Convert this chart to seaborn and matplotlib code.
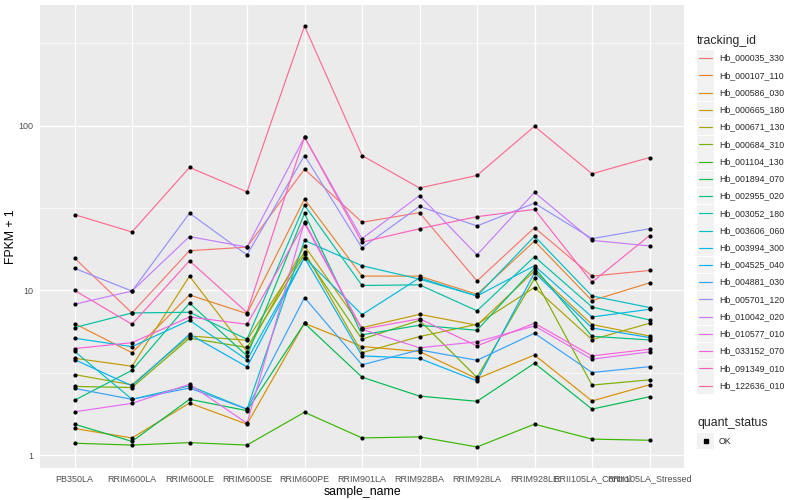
import numpy as np
import pandas as pd
import matplotlib
matplotlib.use("Agg")
import matplotlib.pyplot as plt
from matplotlib.lines import Line2D
from matplotlib.patches import Rectangle
import seaborn as sns

samples = ["PB350LA", "RRIM600LA", "RRIM600LE", "RRIM600SE", "RRIM600PE",
           "RRIM901LA", "RRIM928BA", "RRIM928LA", "RRIM928LE",
           "RRII105LA_Control", "RRII105LA_Stressed"]

tracking_ids = ["Hb_000035_330", "Hb_000107_110", "Hb_000586_030", "Hb_000665_180",
                "Hb_000671_130", "Hb_000684_310", "Hb_001104_130", "Hb_001894_070",
                "Hb_002955_020", "Hb_003052_180", "Hb_003606_060", "Hb_003994_300",
                "Hb_004525_040", "Hb_004881_030", "Hb_005701_120", "Hb_010042_020",
                "Hb_010577_010", "Hb_033152_070", "Hb_091349_010", "Hb_122636_010"]

# FPKM + 1 values, one list per gene, in the order of `samples`
hb_000035_330 = [15.7, 7.29, 17.4, 18.3, 54.4, 25.9, 29.6, 11.4, 24.0, 12.2, 13.2]
hb_000107_110 = [6.28, 4.18, 9.37, 7.22, 35.8, 12.2, 12.2, 9.46, 19.9, 8.66, 11.1]
hb_000586_030 = [1.45, 1.27, 2.07, 1.54, 6.31, 4.56, 4.25, 2.91, 4.05, 2.13, 2.67]
hb_000665_180 = [3.87, 3.46, 12.2, 4.25, 18.6, 5.93, 7.15, 6.14, 13.1, 6.20, 5.28]
hb_000671_130 = [3.08, 2.67, 5.28, 4.98, 17.1, 4.18, 5.24, 6.22, 10.4, 5.02, 6.31]
hb_000684_310 = [2.61, 2.57, 5.12, 4.50, 16.5, 5.05, 6.58, 2.96, 11.8, 2.66, 2.86]
hb_001104_130 = [1.18, 1.15, 1.19, 1.15, 1.82, 1.27, 1.29, 1.12, 1.54, 1.25, 1.23]
hb_001894_070 = [1.54, 1.21, 2.18, 1.86, 6.31, 2.97, 2.28, 2.12, 3.61, 1.90, 2.26]
hb_002955_020 = [2.15, 3.27, 8.38, 4.00, 29.3, 5.37, 6.14, 5.72, 13.7, 5.26, 5.00]
hb_003052_180 = [5.94, 7.29, 7.36, 5.05, 32.9, 10.7, 10.8, 7.51, 16.0, 7.92, 6.61]
hb_003606_060 = [4.27, 2.18, 2.63, 1.90, 20.1, 14.1, 11.7, 9.24, 21.3, 9.24, 7.86]
hb_003994_300 = [5.12, 4.55, 6.58, 3.78, 15.8, 7.12, 11.9, 9.24, 14.1, 6.89, 7.67]
hb_004525_040 = [3.80, 2.63, 5.41, 3.43, 15.8, 4.00, 3.86, 2.82, 12.8, 5.91, 5.17]
hb_004881_030 = [2.54, 2.18, 2.55, 1.90, 9.03, 3.53, 4.35, 3.76, 5.49, 3.17, 3.44]
hb_005701_120 = [13.6, 9.9, 29.4, 16.4, 65.8, 18.1, 32.3, 24.6, 33.8, 20.6, 23.65]
hb_010042_020 = [8.23, 9.9, 21.2, 18.3, 85.0, 20.6, 37.6, 16.4, 39.3, 20.1, 18.6]
hb_010577_010 = [1.83, 2.06, 2.69, 1.56, 26.1, 5.80, 4.48, 4.87, 6.08, 3.82, 4.23]
hb_033152_070 = [4.43, 4.81, 6.89, 6.22, 25.5, 5.80, 6.72, 4.60, 6.31, 4.00, 4.39]
hb_091349_010 = [10.0, 6.22, 15.1, 7.33, 85.0, 19.6, 23.65, 28.0, 31.0, 11.2, 21.5]
hb_122636_010 = [28.8, 22.6, 55.7, 39.6, 402.0, 65.8, 41.8, 49.8, 99.0, 51.0, 64.0]

series = [hb_000035_330, hb_000107_110, hb_000586_030, hb_000665_180, hb_000671_130,
          hb_000684_310, hb_001104_130, hb_001894_070, hb_002955_020, hb_003052_180,
          hb_003606_060, hb_003994_300, hb_004525_040, hb_004881_030, hb_005701_120,
          hb_010042_020, hb_010577_010, hb_033152_070, hb_091349_010, hb_122636_010]

colors = ["#F8766D", "#EA8331", "#D89000", "#C09B00", "#A3A500", "#7CAE00", "#39B600",
          "#00BB4E", "#00BF7D", "#00C1A3", "#00BFC4", "#00BAE0", "#00B0F6", "#35A2FF",
          "#9590FF", "#C77CFF", "#E76BF3", "#FA62DB", "#FF62BC", "#FF6C91"]

quant_status = ["OK"]

rows = []
for tid, vals in zip(tracking_ids, series):
    for s, v in zip(samples, vals):
        rows.append({"tracking_id": tid, "sample_name": s, "value": v, "quant_status": "OK"})
df = pd.DataFrame(rows)
df["x"] = df["sample_name"].map({s: i for i, s in enumerate(samples)})

sns.set_theme(style="white")
plt.rcParams["font.family"] = ["Liberation Sans", "DejaVu Sans"]

fig = plt.figure(figsize=(8, 5), dpi=100)
ax = fig.add_axes([40 / 800, 1 - 468 / 500, (684 - 40) / 800, (468 - 5) / 500])
ax.set_facecolor("#EBEBEB")

sns.lineplot(data=df, x="x", y="value", hue="tracking_id", hue_order=tracking_ids,
             palette=colors, estimator=None, sort=False, linewidth=0.85,
             legend=False, ax=ax, zorder=3)
sns.scatterplot(data=df, x="x", y="value", color="black", s=9, linewidth=0,
                marker="o", legend=False, ax=ax, zorder=4)

ax.set_yscale("log")
ax.set_xlim(-0.6, len(samples) - 1 + 0.6)
lo, hi = np.log10(df["value"].min()), np.log10(df["value"].max())
pad = 0.05 * (hi - lo)
ax.set_ylim(10 ** (lo - pad), 10 ** (hi + pad))

ax.set_yticks([1, 10, 100])
ax.set_yticklabels(["1", "10", "100"])
ax.set_yticks([10 ** 0.5, 10 ** 1.5, 10 ** 2.5], minor=True)
ax.yaxis.set_minor_formatter(matplotlib.ticker.NullFormatter())
ax.set_xticks(range(len(samples)))
ax.set_xticklabels(samples)

ax.grid(True, which="major", color="white", linewidth=1.0, zorder=0)
ax.grid(True, which="minor", axis="y", color="white", linewidth=0.5, zorder=0)
ax.set_axisbelow(True)
for sp in ax.spines.values():
    sp.set_visible(False)
ax.tick_params(axis="both", which="major", length=2.7, width=0.6, color="#333333",
               labelsize=6.5, labelcolor="#4D4D4D", pad=2)
ax.tick_params(axis="y", which="minor", length=0)

ax.set_xlabel("sample_name", fontsize=8.8, color="black", labelpad=2)
ax.set_ylabel("FPKM + 1", fontsize=8.8, color="black")
ax.yaxis.set_label_coords(-0.036, 0.5)

# ggplot-style legends drawn in figure pixel coordinates
W, H = 800, 500
def fx(px):
    return px / W
def fy(py):
    return 1 - py / H

fig.text(fx(697), fy(41), "tracking_id", fontsize=8.8, va="center", ha="left")
step = 17.23
for i, (tid, c) in enumerate(zip(tracking_ids, colors)):
    yc = 58.2 + i * step
    fig.patches.append(Rectangle((fx(697), fy(yc + 8.3)), 17 / W, 16.6 / H,
                                 transform=fig.transFigure, facecolor="#F2F2F2",
                                 edgecolor="none"))
    fig.lines.append(Line2D([fx(699), fx(712)], [fy(yc), fy(yc)], color=c,
                            linewidth=0.85, transform=fig.transFigure))
    fig.text(fx(719), fy(yc), tid, fontsize=6.3, va="center", ha="left")

fig.text(fx(697), fy(423), "quant_status", fontsize=8.8, va="center", ha="left")
yc = 441
fig.patches.append(Rectangle((fx(697), fy(yc + 8.3)), 17 / W, 16.6 / H,
                             transform=fig.transFigure, facecolor="#F2F2F2",
                             edgecolor="none"))
fig.lines.append(Line2D([fx(705.5)], [fy(yc)], marker="s", markersize=2.8,
                        color="black", linestyle="none", transform=fig.transFigure))
fig.text(fx(719), fy(yc), quant_status[0], fontsize=6.3, va="center", ha="left")

fig.savefig("out.png", dpi=100)
